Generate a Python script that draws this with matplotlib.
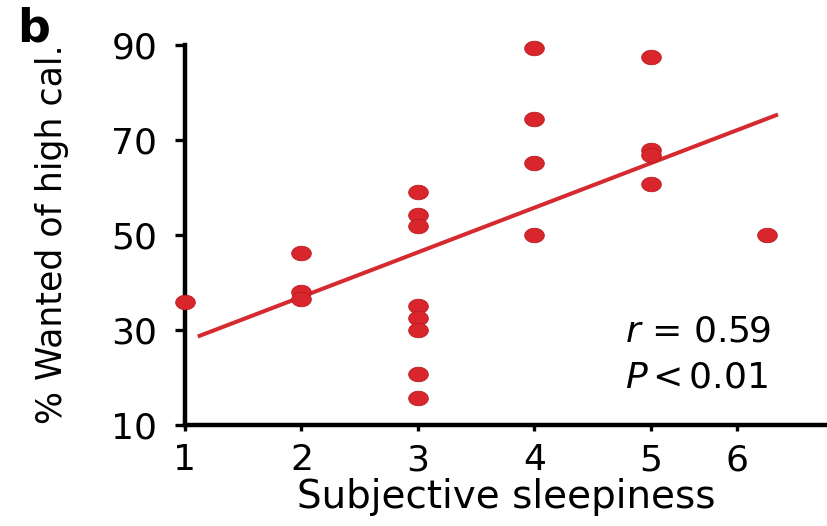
import numpy as np
import matplotlib
matplotlib.use("Agg")
import matplotlib.pyplot as plt

plt.rcParams["font.family"] = ["DejaVu Sans"]
plt.rcParams["mathtext.fontset"] = "dejavusans"

# sleepiness rating vs. % high-calorie items wanted
sleepiness = [1, 2, 2, 2, 3, 3, 3, 3, 3, 3, 3, 3, 4, 4, 4, 4, 5, 5, 5, 5, 6]
wanted = [36.0, 46.3, 38.0, 36.6,
          59.1, 54.2, 51.8, 35.1, 32.5, 30.0, 20.7, 15.6,
          89.4, 74.4, 65.1, 50.0,
          87.4, 67.9, 66.8, 60.7,
          50.0]
yticks = [10, 30, 50, 70, 90]
xtick_labels = ["1", "2", "3", "4", "5", "6"]
xtick_pos = [1, 2, 3, 4, 5, 5.74]
stats = ["$r$ = 0.59", "$P$$\\,$<$\\,$0.01"]

red = "#d8262c"

fig = plt.figure(figsize=(8.28, 5.26), dpi=100)
ax = fig.add_axes([185 / 828, 1 - 425 / 526, 642 / 828, 380 / 526])

# slightly squashed dots
t = np.linspace(0, 2 * np.pi, 60)
dot = np.column_stack([np.cos(t), 0.74 * np.sin(t)])
ax.scatter(sleepiness, wanted, s=200, marker=dot, color=red,
           edgecolors="#b81d22", linewidths=0.6, zorder=3, clip_on=False)

# least-squares fit
k, b0 = np.polyfit(sleepiness, wanted, 1)
xs = np.array([1.11, 6.09])
ax.plot(xs, k * xs + b0, color="#d52a2f", lw=2.9, solid_capstyle="butt", zorder=2)

ax.set_xlim(1, 1 + 642 / 116.5)
ax.set_ylim(10, 90)
ax.set_yticks(yticks)
ax.set_xticks(xtick_pos)
ax.set_xticklabels(xtick_labels)

for s in ["top", "right"]:
    ax.spines[s].set_visible(False)
for s in ["left", "bottom"]:
    ax.spines[s].set_linewidth(3.2)
ax.tick_params(axis="y", direction="out", length=7, width=2.4, pad=13, labelsize=26)
ax.tick_params(axis="x", direction="out", length=4, width=2.4, pad=9, labelsize=26)

ax.set_xlabel("Subjective sleepiness", fontsize=28, labelpad=1)
fig.text(52 / 828, 1 - 234 / 526, "% Wanted of high cal.", rotation=90,
         ha="center", va="center", fontsize=25)

ax.text(4.78, 27.5, stats[0], fontsize=26, ha="left", va="baseline")
ax.text(4.78, 18.0, stats[1], fontsize=26, ha="left", va="baseline")

fig.text(17 / 828, 1 - 6 / 526, "b", fontsize=33, fontweight="bold", ha="left", va="top")

fig.savefig("out.png", dpi=100)
